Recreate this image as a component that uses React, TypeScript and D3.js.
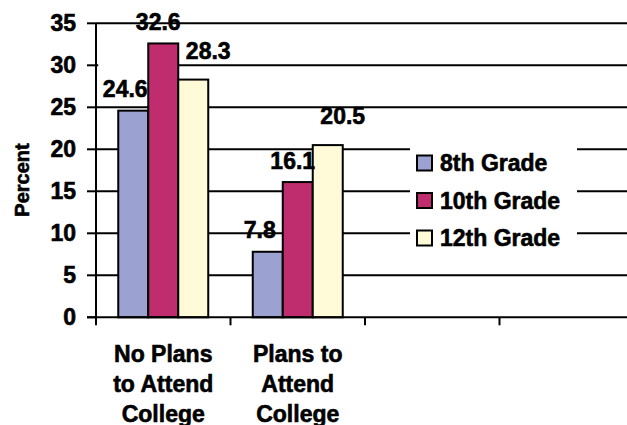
import React from "react";
import * as d3 from "d3";

const categories = ["No Plans to Attend College", "Plans to Attend College", "c3", "c4"];
const categoryLabelLines = [["No Plans", "to Attend", "College"], ["Plans to", "Attend", "College"], [], []];
const series = ["8th Grade", "10th Grade", "12th Grade"];
const grade8 = [24.6, 7.8];
const grade10 = [32.6, 16.1];
const grade12 = [28.3, 20.5];
const yTicks = [0, 5, 10, 15, 20, 25, 30, 35];

const colors = ["#9BA2D2", "#C02D6E", "#FFFAD8"];
// label placement offsets per series (dx, dy from bar top-centre)
const labelDx = [-8, -5, 15];
const labelDy = [-14, -13, -21];

const W = 627;
const H = 425;
const FONT = "'Liberation Sans', Arial, Helvetica, sans-serif";

export default function App() {
  const values = [grade8, grade10, grade12];
  const x0 = d3.scaleBand<string>().domain(categories).range([96, 634]).padding(0);
  const x1 = d3.scaleBand<string>().domain(series).range([0, x0.bandwidth()]).paddingInner(0).paddingOuter(0.742);
  const y = d3.scaleLinear().domain([0, 35]).range([317.3, 23.3]);

  const bars: any[] = [];
  const labels: any[] = [];
  series.forEach((s, si) => {
    values[si].forEach((v, ci) => {
      const bx = (x0(categories[ci]) as number) + (x1(s) as number);
      const bw = x1.bandwidth();
      bars.push(
        <rect key={`b${si}-${ci}`} x={bx} y={y(v)} width={bw} height={y(0) - y(v)}
          fill={colors[si]} stroke="#000" strokeWidth={2} />
      );
      labels.push({ si, ci, v, x: bx + bw / 2 + labelDx[si], y: y(v) + labelDy[si] });
    });
  });

  const ts = { stroke: "#000", strokeWidth: 0.6 } as any;

  return (
    <svg width={W} height={H} style={{ position: "absolute", left: 0, top: 0, background: "#fff" }}
      fontFamily={FONT} fontWeight="bold">
      <rect x={0} y={0} width={W} height={H} fill="#fff" />
      {/* gridlines */}
      {yTicks.filter((t) => t > 0).map((t) => (
        <line key={`g${t}`} x1={96} x2={W} y1={y(t)} y2={y(t)} stroke="#000" strokeWidth={2} />
      ))}
      {/* background patch behind first label */}
      {labels.filter((l) => l.si === 0 && l.ci === 0).map((l) => (
        <rect key="lbbg" x={l.x - 27} y={y(30) - 4} width={54} height={(l.y + 4) - (y(30) - 4)} fill="#fff" />
      ))}
      {/* legend background */}
      <rect x={410} y={142} width={167} height={114} fill="#fff" />
      {bars}
      {/* axes */}
      <line x1={96} x2={96} y1={y(35)} y2={y(0)} stroke="#000" strokeWidth={2} />
      <line x1={87} x2={W} y1={y(0)} y2={y(0)} stroke="#000" strokeWidth={2} />
      {yTicks.map((t) => (
        <g key={`yt${t}`}>
          <line x1={87} x2={96} y1={y(t)} y2={y(t)} stroke="#000" strokeWidth={2} />
          <text x={76} y={y(t)} dy="0.35em" textAnchor="end" fontSize={23} fill="#000" {...ts}>{t}</text>
        </g>
      ))}
      {categories.map((c) => (
        <line key={`xt${c}`} x1={x0(c) as number} x2={x0(c) as number} y1={y(0)} y2={y(0) + 8} stroke="#000" strokeWidth={2} />
      ))}
      <line x1={634} x2={634} y1={y(0)} y2={y(0) + 8} stroke="#000" strokeWidth={2} />
      {categories.map((c, ci) => (
        <text key={`cl${c}`} textAnchor="middle" fontSize={23} fill="#000" {...ts}>
          {categoryLabelLines[ci].map((ln, li) => (
            <tspan key={li} x={(x0(c) as number) + x0.bandwidth() / 2} y={361.5 + li * 30}>{ln}</tspan>
          ))}
        </text>
      ))}
      {/* data labels */}
      {labels.map((l) => (
        <text key={`dl${l.si}-${l.ci}`} x={l.x} y={l.y} textAnchor="middle" fontSize={23} fill="#000" {...ts}>
          {l.v.toFixed(1)}
        </text>
      ))}
      {/* y title */}
      <text transform={`translate(28.5,180) rotate(-90)`} textAnchor="middle" fontSize={20} fill="#000" {...ts}>Percent</text>
      {/* legend */}
      {series.map((s, si) => (
        <g key={`lg${s}`} transform={`translate(417, ${155.5 + si * 37.5})`}>
          <rect x={0} y={0} width={15} height={15} fill={colors[si]} stroke="#000" strokeWidth={2} />
          <text x={23} y={15.5} fontSize={23} fill="#000" {...ts}>{s}</text>
        </g>
      ))}
    </svg>
  );
}
